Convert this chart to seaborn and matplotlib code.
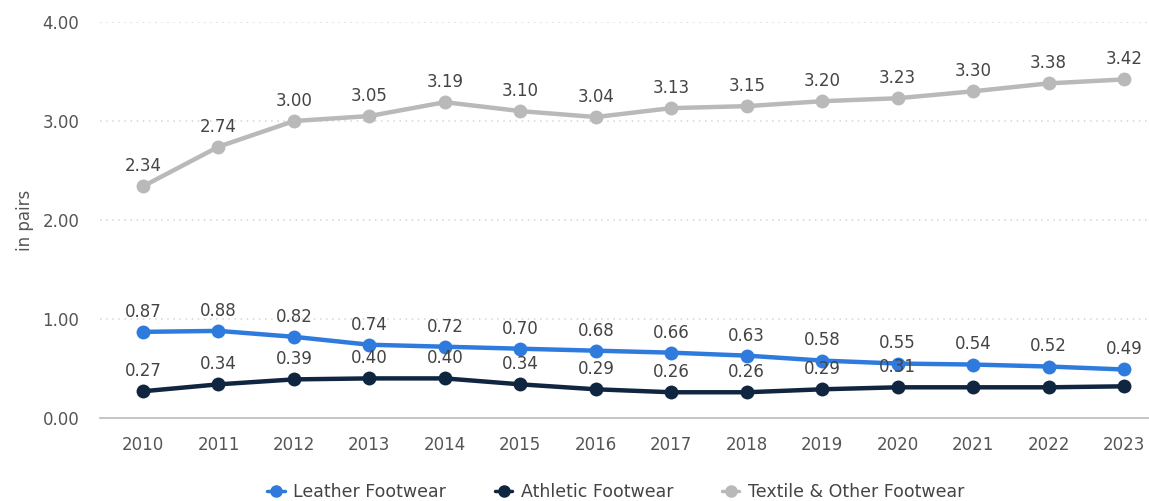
import matplotlib
matplotlib.use("Agg")
import matplotlib.pyplot as plt
from matplotlib.lines import Line2D
import seaborn as sns
import pandas as pd

years = [2010, 2011, 2012, 2013, 2014, 2015, 2016, 2017, 2018, 2019, 2020, 2021, 2022, 2023]
leather = [0.87, 0.88, 0.82, 0.74, 0.72, 0.70, 0.68, 0.66, 0.63, 0.58, 0.55, 0.54, 0.52, 0.49]
athletic = [0.27, 0.34, 0.39, 0.40, 0.40, 0.34, 0.29, 0.26, 0.26, 0.29, 0.31, 0.31, 0.31, 0.32]
textile = [2.34, 2.74, 3.00, 3.05, 3.19, 3.10, 3.04, 3.13, 3.15, 3.20, 3.23, 3.30, 3.38, 3.42]
series_names = ["Leather Footwear", "Athletic Footwear", "Textile & Other Footwear"]
colors = ["#2F7BDD", "#0F2540", "#B9B9B9"]
ytick_vals = [0.0, 1.0, 2.0, 3.0, 4.0]
# athletic labels hidden in the reference for the last years (overlap)
athletic_label_shown = [True] * 11 + [False] * 3

sns.set_theme(style="white")
plt.rcParams['font.family'] = ['DejaVu Sans']

df = pd.concat([
    pd.DataFrame({"year": years, "value": vals, "series": name})
    for name, vals in zip(series_names, [leather, athletic, textile])
])

fig = plt.figure(figsize=(11.49, 5.01), dpi=100)
ax = fig.add_axes([100/1149, 1 - 418/501, 1 - 100/1149, 396/501])

sns.lineplot(data=df, x="year", y="value", hue="series", palette=colors,
             hue_order=series_names, marker="o", markersize=10, linewidth=3.2,
             markeredgewidth=0, ax=ax, legend=False, zorder=3)

for line in ax.lines:
    line.set_clip_on(False)

txt_color = "#444444"
for name, vals in zip(series_names, [leather, athletic, textile]):
    for i, (x, v) in enumerate(zip(years, vals)):
        if name == "Athletic Footwear" and not athletic_label_shown[i]:
            continue
        ax.annotate(f"{v:.2f}", (x, v), xytext=(0, 8), textcoords="offset points",
                    ha="center", va="bottom", fontsize=12, color=txt_color, zorder=4)

ax.set_xlim(2009.43, 2023.33)
ax.set_ylim(0, 4)
ax.set_xticks(years)
ax.set_xticklabels([str(y) for y in years])
ax.set_yticks(ytick_vals)
ax.set_yticklabels([f"{v:.2f}" for v in ytick_vals])
ax.tick_params(axis="both", colors="#555555", labelsize=12, length=0)
ax.tick_params(axis="x", pad=13)
ax.tick_params(axis="y", pad=15)
ax.set_xlabel("")
ax.set_ylabel("in pairs", fontsize=12, color="#555555", labelpad=6)

for s in ["top", "right", "left"]:
    ax.spines[s].set_visible(False)
ax.spines["bottom"].set_color("#BBBBBB")
ax.spines["bottom"].set_linewidth(1.2)

for v in ytick_vals[1:]:
    ax.axhline(v, color="#D5D5D5", linestyle=(0, (1, 3)), linewidth=1.1, zorder=0)

handles = [Line2D([0], [0], marker="o", color=c, linestyle="-", linewidth=2.5, markersize=8)
           for c in colors]
fig.legend(handles, series_names, loc="center", bbox_to_anchor=(0.536, 1 - 492/501),
           ncol=3, frameon=False, fontsize=12.5, handlelength=1.0, columnspacing=2.8,
           handletextpad=0.5, labelcolor="#444444")

fig.savefig("out.png", dpi=100)
